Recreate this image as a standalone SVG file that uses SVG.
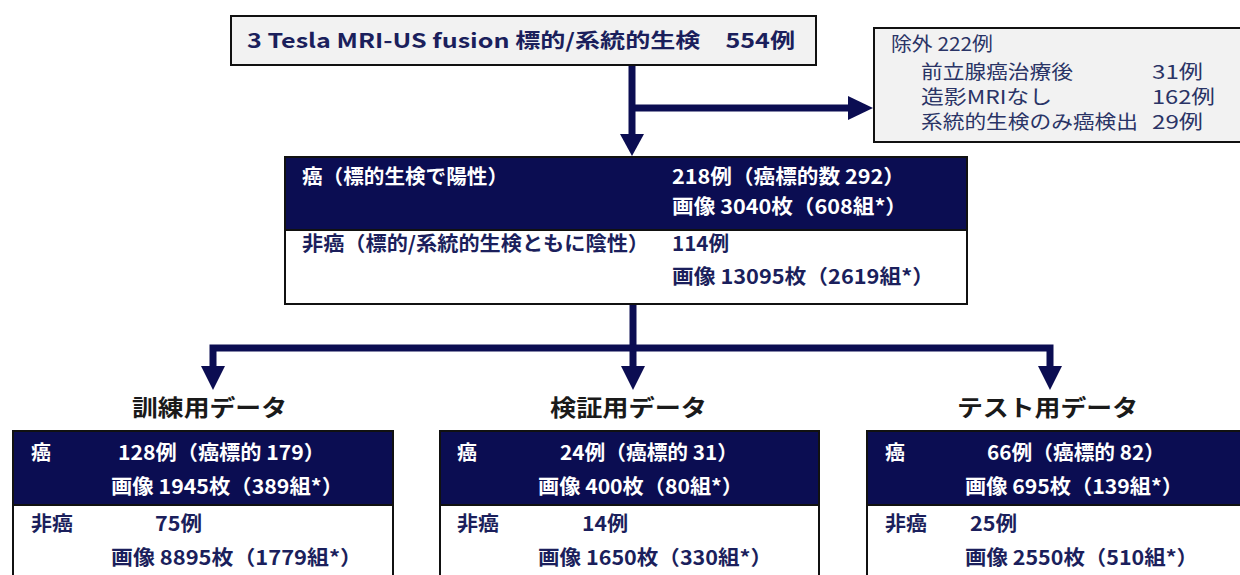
<svg xmlns="http://www.w3.org/2000/svg" width="1240" height="575" viewBox="0 0 1240 575">
<style>
text{font-family:"Noto Sans CJK JP","Noto Sans",sans-serif;}
.b{font-weight:bold;font-size:20px;}
.w{fill:#ffffff;}
.n{fill:#1b1f5c;}
.ex{font-size:19px;fill:#2a3466;}
.t{font-weight:bold;font-size:23px;fill:#1a1a1a;}
.box{stroke:#111;stroke-width:2;}
.navy{fill:#0b0d52;}
.conn{stroke:#0b0d52;stroke-width:7;fill:none;}
.ah{fill:#0b0d52;}
</style>
<g id="connectors">
<path class="conn" d="M632 65 V136"/>
<path class="conn" d="M632 108 H850"/>
<polygon class="ah" points="620,134 644,134 632,156"/>
<polygon class="ah" points="848,96 848,120 873,108"/>
<path class="conn" d="M633 305 V368"/>
<path class="conn" d="M213 372 V348 H1050 V372"/>
<polygon class="ah" points="201,366 225,366 213,390"/>
<polygon class="ah" points="621,366 645,366 633,390"/>
<polygon class="ah" points="1038,366 1062,366 1050,390"/>
</g>
<g id="node-source">
<rect class="box" x="231" y="16" width="585" height="49" fill="#f2f2f2"/>
<text class="b n" x="247" y="48" textLength="548" lengthAdjust="spacingAndGlyphs">3 Tesla MRI-US fusion 標的/系統的生検　554例</text>
</g>
<g id="node-excluded">
<rect class="box" x="874" y="28" width="376" height="114" fill="#f2f2f2"/>
<text class="ex" x="891" y="51" textLength="102" lengthAdjust="spacingAndGlyphs">除外 222例</text>
<text class="ex" x="921" y="79" textLength="152" lengthAdjust="spacingAndGlyphs">前立腺癌治療後</text>
<text class="ex" x="1152" y="79" textLength="51" lengthAdjust="spacingAndGlyphs">31例</text>
<text class="ex" x="921" y="104" textLength="131" lengthAdjust="spacingAndGlyphs">造影MRIなし</text>
<text class="ex" x="1152" y="104" textLength="63" lengthAdjust="spacingAndGlyphs">162例</text>
<text class="ex" x="921" y="129" textLength="217" lengthAdjust="spacingAndGlyphs">系統的生検のみ癌検出</text>
<text class="ex" x="1152" y="129" textLength="51" lengthAdjust="spacingAndGlyphs">29例</text>
</g>
<g id="node-all">
<rect x="285" y="157" width="682" height="147" fill="#ffffff"/>
<rect class="navy" x="285" y="157" width="682" height="73"/>
<rect class="box" x="285" y="157" width="682" height="147" fill="none"/>
<line x1="285" y1="230" x2="967" y2="230" stroke="#111" stroke-width="2"/>
<text class="b w" x="302" y="184" textLength="206" lengthAdjust="spacingAndGlyphs">癌（標的生検で陽性）</text>
<text class="b w" x="672" y="184" textLength="233" lengthAdjust="spacingAndGlyphs">218例（癌標的数 292）</text>
<text class="b w" x="672" y="214" textLength="235" lengthAdjust="spacingAndGlyphs">画像 3040枚（608組*）</text>
<text class="b n" x="302" y="251" textLength="347" lengthAdjust="spacingAndGlyphs">非癌（標的/系統的生検ともに陰性）</text>
<text class="b n" x="672" y="251" textLength="57" lengthAdjust="spacingAndGlyphs">114例</text>
<text class="b n" x="672" y="284" textLength="262" lengthAdjust="spacingAndGlyphs">画像 13095枚（2619組*）</text>
</g>
<g id="node-train">
<text class="t" x="132" y="416" textLength="155" lengthAdjust="spacingAndGlyphs">訓練用データ</text>
<rect x="13" y="431" width="380" height="150" fill="#ffffff"/>
<rect class="navy" x="13" y="431" width="380" height="74"/>
<rect class="box" x="13" y="431" width="380" height="150" fill="none"/>
<line x1="13" y1="505" x2="393" y2="505" stroke="#111" stroke-width="2"/>
<text class="b w" x="31" y="460">癌</text>
<text class="b w" x="118" y="460" textLength="207" lengthAdjust="spacingAndGlyphs">128例（癌標的 179）</text>
<text class="b w" x="111" y="494" textLength="232" lengthAdjust="spacingAndGlyphs">画像 1945枚（389組*）</text>
<text class="b n" x="31" y="531" textLength="42" lengthAdjust="spacingAndGlyphs">非癌</text>
<text class="b n" x="155" y="531" textLength="47" lengthAdjust="spacingAndGlyphs">75例</text>
<text class="b n" x="111" y="565" textLength="251" lengthAdjust="spacingAndGlyphs">画像 8895枚（1779組*）</text>
</g>
<g id="node-valid">
<text class="t" x="550" y="416" textLength="157" lengthAdjust="spacingAndGlyphs">検証用データ</text>
<rect x="440" y="431" width="379" height="150" fill="#ffffff"/>
<rect class="navy" x="440" y="431" width="379" height="74"/>
<rect class="box" x="440" y="431" width="379" height="150" fill="none"/>
<line x1="440" y1="505" x2="819" y2="505" stroke="#111" stroke-width="2"/>
<text class="b w" x="457" y="460">癌</text>
<text class="b w" x="560" y="460" textLength="178" lengthAdjust="spacingAndGlyphs">24例（癌標的 31）</text>
<text class="b w" x="538" y="494" textLength="205" lengthAdjust="spacingAndGlyphs">画像 400枚（80組*）</text>
<text class="b n" x="457" y="531" textLength="42" lengthAdjust="spacingAndGlyphs">非癌</text>
<text class="b n" x="582" y="531" textLength="46" lengthAdjust="spacingAndGlyphs">14例</text>
<text class="b n" x="538" y="565" textLength="234" lengthAdjust="spacingAndGlyphs">画像 1650枚（330組*）</text>
</g>
<g id="node-test">
<text class="t" x="957" y="416" textLength="181" lengthAdjust="spacingAndGlyphs">テスト用データ</text>
<rect x="867" y="431" width="383" height="150" fill="#ffffff"/>
<rect class="navy" x="867" y="431" width="383" height="74"/>
<rect class="box" x="867" y="431" width="383" height="150" fill="none"/>
<line x1="867" y1="505" x2="1250" y2="505" stroke="#111" stroke-width="2"/>
<text class="b w" x="885" y="460">癌</text>
<text class="b w" x="987" y="460" textLength="178" lengthAdjust="spacingAndGlyphs">66例（癌標的 82）</text>
<text class="b w" x="965" y="494" textLength="218" lengthAdjust="spacingAndGlyphs">画像 695枚（139組*）</text>
<text class="b n" x="885" y="531" textLength="42" lengthAdjust="spacingAndGlyphs">非癌</text>
<text class="b n" x="970" y="531" textLength="47" lengthAdjust="spacingAndGlyphs">25例</text>
<text class="b n" x="965" y="565" textLength="233" lengthAdjust="spacingAndGlyphs">画像 2550枚（510組*）</text>
</g>
</svg>
